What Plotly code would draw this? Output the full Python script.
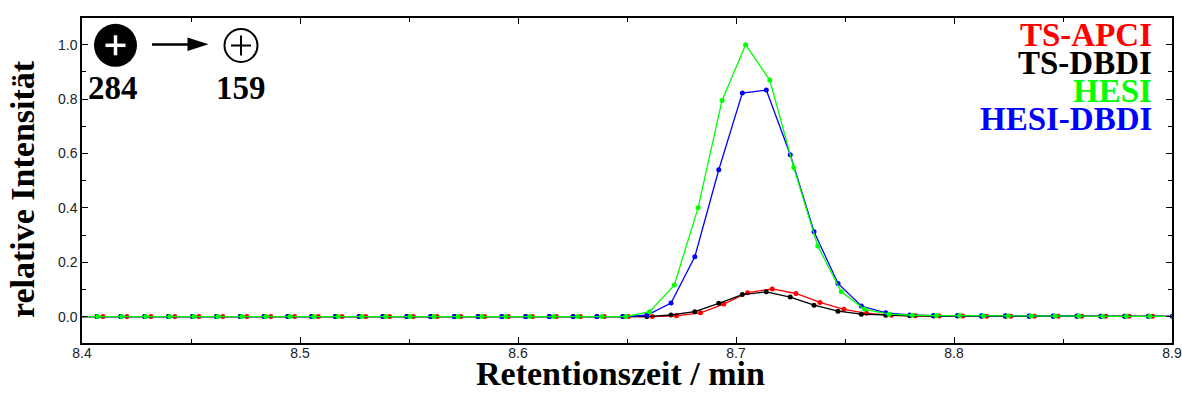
import plotly.graph_objects as go

# ---------------- data ----------------
t_hesi = [8.3963, 8.4073, 8.4183, 8.4293, 8.4403, 8.4514, 8.4624, 8.4734, 8.4844, 8.4954,
          8.5064, 8.5174, 8.5284, 8.5394, 8.5505, 8.5615, 8.5725, 8.5835, 8.5945, 8.6055,
          8.6165, 8.6275, 8.6385, 8.6495, 8.6604, 8.6717, 8.6826, 8.6936, 8.7044, 8.7155,
          8.7265, 8.7375, 8.7483, 8.7590, 8.7702, 8.7809, 8.7919, 8.8026, 8.8136, 8.8248,
          8.8355, 8.8465, 8.8572, 8.8683, 8.8791, 8.8898, 8.9008]
y_hesi = [0, 0, 0, 0, 0, 0, 0, 0, 0, 0,
          0, 0, 0, 0, 0, 0, 0, 0, 0, 0,
          0, 0, 0, 0, 0.018, 0.116, 0.400, 0.795, 1.000, 0.870,
          0.548, 0.260, 0.091, 0.027, 0.009, 0.005, 0.004, 0.004, 0.003, 0.003,
          0.002, 0.002, 0.002, 0.001, 0.001, 0.001, 0.001]

t_dbdi = [8.3952, 8.4069, 8.4178, 8.4288, 8.4397, 8.4507, 8.4617, 8.4726, 8.4835, 8.4944,
          8.5053, 8.5162, 8.5271, 8.5380, 8.5490, 8.5599, 8.5708, 8.5817, 8.5926, 8.6035,
          8.6144, 8.6253, 8.6362, 8.6481, 8.6591, 8.6702, 8.6811, 8.6921, 8.7029, 8.7139,
          8.7249, 8.7358, 8.7468, 8.7575, 8.7687, 8.7797, 8.7906, 8.8016, 8.8126, 8.8236,
          8.8345, 8.8455, 8.8564, 8.8674, 8.8783, 8.8892, 8.9002]
y_hesi_dbdi = [0, 0, 0, 0, 0, 0, 0, 0, 0, 0,
               0, 0, 0, 0, 0, 0, 0, 0, 0, 0,
               0, 0, 0, 0, 0.005, 0.050, 0.220, 0.540, 0.822, 0.833,
               0.595, 0.312, 0.122, 0.039, 0.014, 0.006, 0.004, 0.004, 0.003, 0.003,
               0.002, 0.002, 0.002, 0.001, 0.001, 0.001, 0.001]
y_ts_dbdi = [0, 0, 0, 0, 0, 0, 0, 0, 0, 0,
             0, 0, 0, 0, 0, 0, 0, 0, 0, 0,
             0, 0, 0, 0, 0, 0.006, 0.018, 0.049, 0.081, 0.091,
             0.072, 0.042, 0.020, 0.009, 0.005, 0.003, 0.002, 0.002, 0.001, 0.001,
             0.001, 0.001, 0.001, 0.001, 0.001, 0.001, 0.001]

t_apci = [8.3986, 8.4096, 8.4206, 8.4316, 8.4426, 8.4536, 8.4646, 8.4756, 8.4866, 8.4975,
          8.5084, 8.5193, 8.5302, 8.5411, 8.5520, 8.5629, 8.5738, 8.5847, 8.5956, 8.6066,
          8.6176, 8.6286, 8.6396, 8.6506, 8.6616, 8.6727, 8.6837, 8.6944, 8.7053, 8.7166,
          8.7275, 8.7385, 8.7495, 8.7599, 8.7713, 8.7822, 8.7932, 8.8040, 8.8150, 8.8261,
          8.8369, 8.8478, 8.8586, 8.8696, 8.8804, 8.8911, 8.9021]
y_apci = [0, 0, 0, 0, 0, 0, 0, 0, 0, 0,
          0, 0, 0, 0, 0, 0, 0, 0, 0, 0,
          0, 0, 0, 0, 0, 0.003, 0.014, 0.046, 0.088, 0.102,
          0.085, 0.052, 0.027, 0.012, 0.005, 0.003, 0.002, 0.002, 0.001, 0.001,
          0.001, 0.001, 0.001, 0.001, 0.001, 0.001, 0.001]

series_names = ["TS-APCI", "TS-DBDI", "HESI", "HESI-DBDI"]
series_colors = ["#ff0000", "#000000", "#00ff00", "#0000ff"]

x_ticks = [8.4, 8.5, 8.6, 8.7, 8.8, 8.9]
y_ticks = [0.0, 0.2, 0.4, 0.6, 0.8, 1.0]
precursor, product = "284", "159"

# ---------------- layout helpers ----------------
W, H = 1182, 410
L, R, T, B = 82, 10, 18, 67
PW, PH = W - L - R, H - T - B


def px(x):
    return (x - L) / PW


def py(y):
    return (H - B - y) / PH


SERIF = "Liberation Serif, Times New Roman, serif"
SANS = "Liberation Sans, Arial, sans-serif"

fig = go.Figure()
plot_order = [(t_apci, y_apci, 0), (t_dbdi, y_ts_dbdi, 1), (t_dbdi, y_hesi_dbdi, 3), (t_hesi, y_hesi, 2)]
for tx, ty, idx in plot_order:
    fig.add_trace(go.Scatter(
        x=tx, y=ty, mode="lines+markers", name=series_names[idx],
        line=dict(color=series_colors[idx], width=1.3),
        marker=dict(color=series_colors[idx], size=5),
        showlegend=False,
    ))

axis_common = dict(
    showline=True, linecolor="#000000", linewidth=1.5, mirror="ticks",
    ticks="inside", ticklen=6, tickwidth=1.3, tickcolor="#000000",
    showgrid=False, zeroline=False, automargin=False,
    tickfont=dict(family=SANS, size=14, color="#222222"),
)
fig.update_xaxes(range=[8.4, 8.9], tickvals=x_ticks, ticktext=[f"{v:.1f}" for v in x_ticks],
                 ticklabelstandoff=-4,
                 minor=dict(ticks="inside", ticklen=4, tickwidth=1.2, tickcolor="#000000", dtick=0.05, showgrid=False),
                 **axis_common)
fig.update_yaxes(range=[-0.097, 1.098], tickvals=y_ticks, ticktext=[f"{v:.1f}" for v in y_ticks],
                 minor=dict(ticks="inside", ticklen=4, tickwidth=1.2, tickcolor="#000000", dtick=0.1, showgrid=False),
                 **axis_common)

annotations = []
# legend text
legend_y = [35, 63, 91, 119]
for name, col, yy in zip(series_names, series_colors, legend_y):
    annotations.append(dict(text=f"<b>{name}</b>", x=px(1154), y=py(yy), xref="paper", yref="paper",
                            xanchor="right", yanchor="middle", showarrow=False,
                            font=dict(family=SERIF, size=33, color=col)))
# axis titles
annotations.append(dict(text="<b>Retentionszeit / min</b>", x=px(620), y=py(373), xref="paper", yref="paper",
                        xanchor="center", yanchor="middle", showarrow=False,
                        font=dict(family=SERIF, size=34, color="#000000")))
annotations.append(dict(text="<b>relative Intensität</b>", x=px(22), y=py(189), xref="paper", yref="paper",
                        xanchor="center", yanchor="middle", showarrow=False, textangle=-90,
                        font=dict(family=SERIF, size=34, color="#000000")))
# precursor / product labels
for txt, cx in [(precursor, 113), (product, 241)]:
    annotations.append(dict(text=f"<b>{txt}</b>", x=px(cx), y=py(88), xref="paper", yref="paper",
                            xanchor="center", yanchor="middle", showarrow=False,
                            font=dict(family=SERIF, size=33, color="#000000")))

shapes = []
# filled ion circle with white plus
shapes.append(dict(type="circle", xref="paper", yref="paper", x0=px(94), x1=px(137), y0=py(66.8), y1=py(23.8),
                   fillcolor="#000000", line=dict(width=0)))
shapes.append(dict(type="line", xref="paper", yref="paper", x0=px(105.5), x1=px(125.5), y0=py(45.3), y1=py(45.3),
                   line=dict(color="#ffffff", width=3.5)))
shapes.append(dict(type="line", xref="paper", yref="paper", x0=px(115.5), x1=px(115.5), y0=py(35.3), y1=py(55.3),
                   line=dict(color="#ffffff", width=3.5)))
# arrow
shapes.append(dict(type="line", xref="paper", yref="paper", x0=px(152), x1=px(190), y0=py(44.5), y1=py(44.5),
                   line=dict(color="#000000", width=2.5)))
shapes.append(dict(type="path", xref="paper", yref="paper",
                   path=f"M {px(187.5)} {py(37.5)} L {px(208.5)} {py(44.3)} L {px(187.5)} {py(51)} Z",
                   fillcolor="#000000", line=dict(width=0)))
# open product ion circle with plus
shapes.append(dict(type="circle", xref="paper", yref="paper", x0=px(224.5), x1=px(257.5), y0=py(62), y1=py(29),
                   fillcolor="rgba(0,0,0,0)", line=dict(color="#000000", width=2)))
shapes.append(dict(type="line", xref="paper", yref="paper", x0=px(231), x1=px(251), y0=py(45.5), y1=py(45.5),
                   line=dict(color="#000000", width=2)))
shapes.append(dict(type="line", xref="paper", yref="paper", x0=px(241), x1=px(241), y0=py(35.5), y1=py(55.5),
                   line=dict(color="#000000", width=2)))

fig.update_layout(
    width=W, height=H,
    margin=dict(l=L, r=R, t=T, b=B, autoexpand=False),
    paper_bgcolor="#ffffff", plot_bgcolor="#ffffff",
    annotations=annotations, shapes=shapes,
    showlegend=False,
)

fig.write_html("out.html")
